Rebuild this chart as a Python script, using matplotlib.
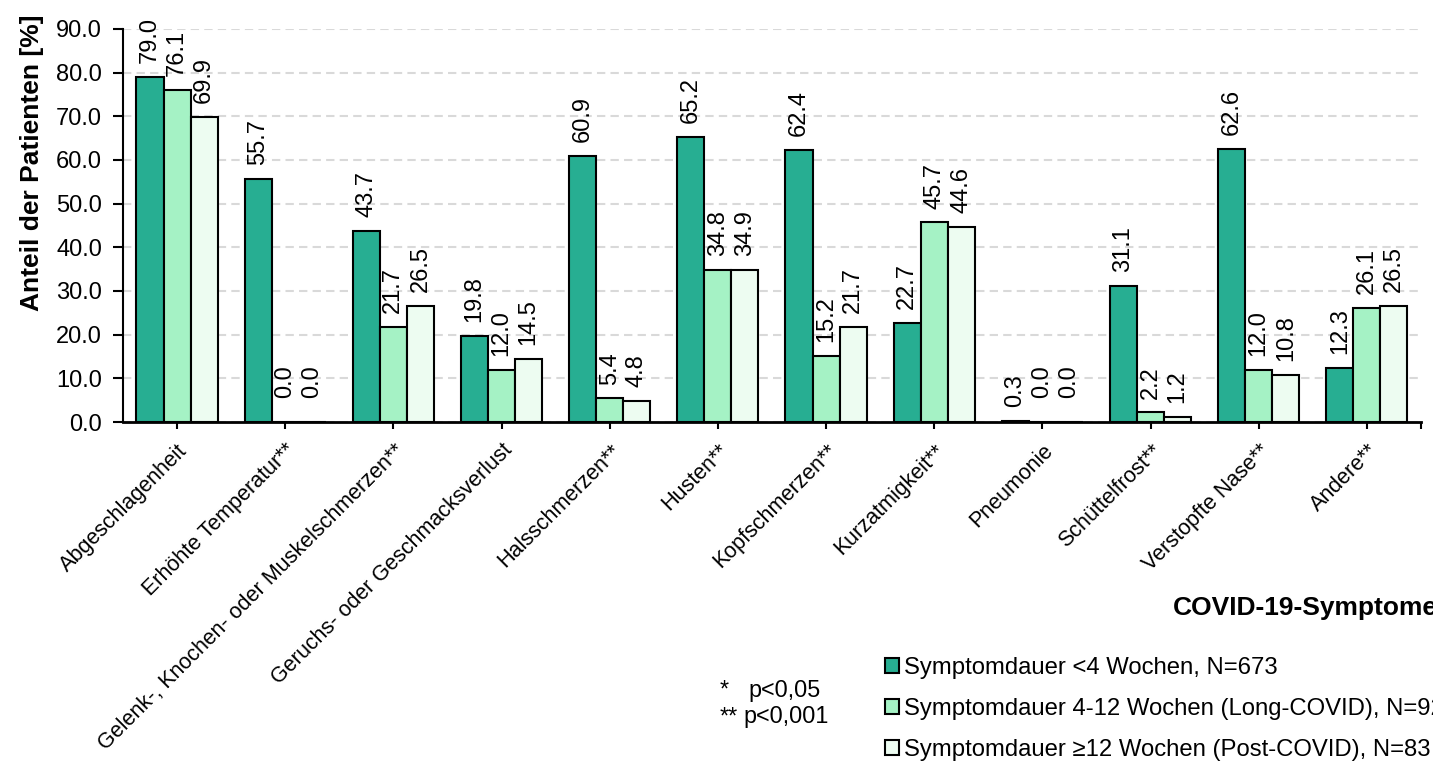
import matplotlib.pyplot as plt
import numpy as np

plt.rcParams['font.family'] = ['Liberation Sans', 'DejaVu Sans']

symptome = ['Abgeschlagenheit', 'Erhöhte Temperatur**',
            'Gelenk-, Knochen- oder Muskelschmerzen**',
            'Geruchs- oder Geschmacksverlust', 'Halsschmerzen**', 'Husten**',
            'Kopfschmerzen**', 'Kurzatmigkeit**', 'Pneumonie', 'Schüttelfrost**',
            'Verstopfte Nase**', 'Andere**']
kurz = [79.0, 55.7, 43.7, 19.8, 60.9, 65.2, 62.4, 22.7, 0.3, 31.1, 62.6, 12.3]
long_covid = [76.1, 0.0, 21.7, 12.0, 5.4, 34.8, 15.2, 45.7, 0.0, 2.2, 12.0, 26.1]
post_covid = [69.9, 0.0, 26.5, 14.5, 4.8, 34.9, 21.7, 44.6, 0.0, 1.2, 10.8, 26.5]
namen = ['Symptomdauer <4 Wochen, N=673',
         'Symptomdauer 4-12 Wochen (Long-COVID), N=92',
         'Symptomdauer \u226512 Wochen (Post-COVID), N=83']
farben = ['#27AE92', '#A5F2C5', '#EDFCF1']

fig = plt.figure(figsize=(14.33, 7.67), dpi=100)
ax = fig.add_axes([0.0858, 0.4498, 0.9058, 0.5124])

index = np.arange(len(symptome))
width = 0.25
bars = []
for i, (werte, name, farbe) in enumerate(zip([kurz, long_covid, post_covid], namen, farben)):
    pos = index + (i - 1) * width
    b = ax.bar(pos, werte, width, color=farbe, edgecolor='black', linewidth=1.5,
               label=name, zorder=3)
    bars.append(b)
    for x, v in zip(pos, werte):
        off = 17 if v == 0 else 10
        ax.annotate('%.1f' % v, (x, v), xytext=(0, off), textcoords='offset points',
                    rotation=90, ha='center', va='bottom', fontsize=17)

ax.set_xlim(-0.5, len(symptome) - 0.5)
ax.set_ylim(0, 90)
ax.set_yticks(np.arange(0, 91, 10))
ax.set_yticklabels(['%.1f' % t for t in np.arange(0, 91, 10)], fontsize=17)
ax.yaxis.grid(True, color='#D9D9D9', linestyle=(0, (4, 2.5)), linewidth=1.5, zorder=0)
ax.set_xticks(index)
ax.set_xticks([len(symptome) - 0.5], minor=True)
ax.set_xticklabels(symptome, rotation=45, ha='right', rotation_mode='anchor', fontsize=15.5)
ax.tick_params(axis='x', which='both', length=5, width=1.5, pad=8)
ax.tick_params(axis='y', length=7, width=1.5, pad=8)
for s in ['top', 'right']:
    ax.spines[s].set_visible(False)
ax.spines['left'].set_linewidth(1.5)
ax.spines['bottom'].set_linewidth(2)

fig.text(32 / 1433, 1 - 163 / 767, 'Anteil der Patienten [%]', rotation=90,
         fontsize=19, fontweight='bold', ha='center', va='center')
fig.text(1173 / 1433, 1 - 608 / 767, 'COVID-19-Symptome', fontsize=19,
         fontweight='bold', va='center', ha='left')
fig.text(720 / 1433, 1 - 690 / 767, '*', fontsize=16.8, va='center')
fig.text(748 / 1433, 1 - 690 / 767, 'p<0,05', fontsize=16.8, va='center')
fig.text(720 / 1433, 1 - 717 / 767, '**', fontsize=16.8, va='center')
fig.text(743 / 1433, 1 - 717 / 767, 'p<0,001', fontsize=16.8, va='center')

fig.legend(handles=bars, loc='upper left', bbox_to_anchor=(875 / 1433, 1 - 647 / 767),
           frameon=False, fontsize=17.2, handlelength=0.59, handleheight=0.59,
           handletextpad=0.21, labelspacing=0.8, borderaxespad=0)

fig.savefig('out.png', dpi=100)
